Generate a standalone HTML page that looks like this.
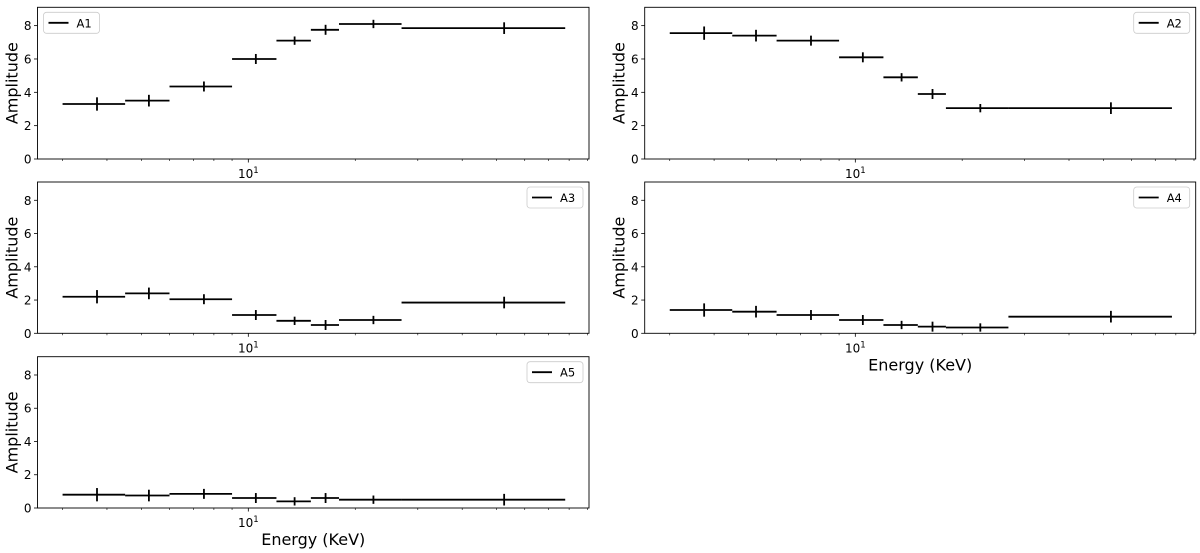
<!DOCTYPE html>
<html><head><meta charset="utf-8">
<style>
body{margin:0;background:#fff;}
svg{display:block;font-family:"DejaVu Sans","Liberation Sans",sans-serif;}
</style></head>
<body>
<svg id="fig" width="1200" height="553" viewBox="0 0 1200 553" xmlns="http://www.w3.org/2000/svg"></svg>
<script>
const edges = [3, 4.5, 6, 9, 12, 15, 18, 27, 78];
const centers = [3.75, 5.25, 7.5, 10.5, 13.5, 16.5, 22.5, 52.5];
const seriesNames = ["A1", "A2", "A3", "A4", "A5"];
const a1 = [3.3, 3.5, 4.35, 6.0, 7.1, 7.75, 8.1, 7.85];
const a2 = [7.55, 7.4, 7.1, 6.1, 4.9, 3.9, 3.05, 3.05];
const a3 = [2.2, 2.4, 2.05, 1.1, 0.75, 0.5, 0.8, 1.85];
const a4 = [1.4, 1.3, 1.1, 0.8, 0.5, 0.4, 0.35, 1.0];
const a5 = [0.8, 0.75, 0.85, 0.6, 0.4, 0.6, 0.5, 0.5];
const errs = [0.4, 0.35, 0.3, 0.3, 0.25, 0.3, 0.25, 0.35];
const yTicks = [0, 2, 4, 6, 8];
const minorTicks = [3,4,5,6,7,8,9,20,30,40,50,60,70,80,90];

const NS = "http://www.w3.org/2000/svg";
const svg = document.getElementById('fig');
function mk(tag, attrs, parent){const e=document.createElementNS(NS,tag);for(const k in attrs)e.setAttribute(k,attrs[k]);(parent||svg).appendChild(e);return e;}

const panels = [
 {x0:37.5,x1:589,y0:7.3,y1:159,data:a1,leg:'left',xlabel:false},
 {x0:644.7,x1:1195.7,y0:7.3,y1:159,data:a2,leg:'right',xlabel:false},
 {x0:37.5,x1:589,y0:182,y1:333.3,data:a3,leg:'right',xlabel:false},
 {x0:644.7,x1:1195.7,y0:182,y1:333.3,data:a4,leg:'right',xlabel:true},
 {x0:37.5,x1:589,y0:356.7,y1:508,data:a5,leg:'right',xlabel:true},
];
const lmin=Math.log10(2.55), lmax=Math.log10(91), ymax=9.1;

panels.forEach((p,i)=>{
  const g=mk('g',{});
  
  
  const X=v=>p.x0+(Math.log10(v)-lmin)/(lmax-lmin)*(p.x1-p.x0);
  const Y=v=>p.y1-v/ymax*(p.y1-p.y0);
  // data
  p.data.forEach((v,k)=>{
    const h=mk('line',{x1:X(edges[k]),x2:X(edges[k+1]),y1:Y(v),y2:Y(v),stroke:'#000','stroke-width':1.8},g);
    
    
    const e=mk('line',{x1:X(centers[k]),x2:X(centers[k]),y1:Y(v-errs[k]),y2:Y(v+errs[k]),stroke:'#000','stroke-width':1.8},g);
    
    
  });
  // frame
  const f=mk('rect',{x:p.x0,y:p.y0,width:p.x1-p.x0,height:p.y1-p.y0,fill:'none',stroke:'#000','stroke-width':0.9},g);
  
  
  // y ticks
  yTicks.forEach(t=>{
    mk('line',{x1:p.x0-3.5,x2:p.x0,y1:Y(t),y2:Y(t),stroke:'#000','stroke-width':0.8},g);
    const tx=mk('text',{x:p.x0-6,y:Y(t)+4.5,'font-size':12,'text-anchor':'end',fill:'#000'},g);
    tx.textContent=t;
    
    
  });
  // x ticks
  mk('line',{x1:X(10),x2:X(10),y1:p.y1,y2:p.y1+3.5,stroke:'#000','stroke-width':0.8},g);
  minorTicks.forEach(t=>mk('line',{x1:X(t),x2:X(t),y1:p.y1,y2:p.y1+2,stroke:'#000','stroke-width':0.6},g));
  const xl=mk('text',{x:X(10),y:p.y1+19,'font-size':12,'text-anchor':'middle',fill:'#000'},g);
  xl.innerHTML='10<tspan dy="-5" font-size="8.5">1</tspan>';
  
  
  // y title
  const yt=mk('text',{x:0,y:0,'font-size':16,'text-anchor':'middle',fill:'#000',transform:`translate(${p.x0-20},${(p.y0+p.y1)/2}) rotate(-90)`},g);
  yt.textContent='Amplitude';
  
  
  if(p.xlabel){
    const xt=mk('text',{x:(p.x0+p.x1)/2,y:p.y1+37,'font-size':16,'text-anchor':'middle',fill:'#000'},g);
    xt.textContent='Energy (KeV)';
    
    
  }
  // legend
  const lx=p.leg==='left'?p.x0+6:p.x1-62, ly=p.y0+5;
  const lg=mk('g',{},g);
  
  
  mk('rect',{x:lx,y:ly,width:56,height:21,rx:3,fill:'#fff',stroke:'#ccc','stroke-width':0.8},lg);
  mk('line',{x1:lx+5,x2:lx+25,y1:ly+10.5,y2:ly+10.5,stroke:'#000','stroke-width':1.8},lg);
  const lt=mk('text',{x:lx+33,y:ly+15,'font-size':11.5,fill:'#000'},lg);
  lt.textContent=seriesNames[i];
  
  
});
</script>
</body></html>
